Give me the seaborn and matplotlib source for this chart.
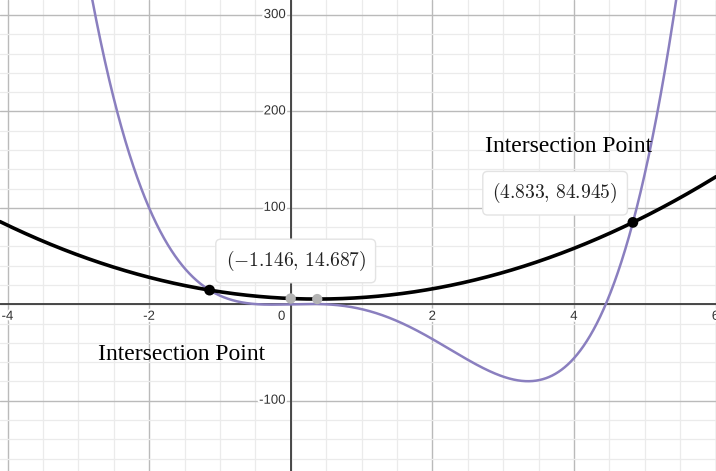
import numpy as np
import matplotlib
matplotlib.use("Agg")
import matplotlib.pyplot as plt
import matplotlib.patheffects as pe
from matplotlib.ticker import MultipleLocator
import seaborn as sns

# Curves shown on the graph (polynomial coefficients, highest power first)
black_coef = [4, -3, 6]            # y = 4x^2 - 3x + 6
purple_coef = [2, -9, 0, 2, 0]     # y = 2x^4 - 9x^3 + 2x

# Marked points
inter_x = [-1.146, 4.833]
inter_y = [14.687, 84.945]
gray_x = [0.0, 0.375]
gray_y = [6.0, 5.4375]

# Axis tick labels
xtick_vals = [-4, -2, 0, 2, 4, 6]
xtick_labels = ["-4", "-2", "0", "2", "4", "6"]
ytick_vals = [-100, 100, 200, 300]
ytick_labels = ["-100", "100", "200", "300"]

sns.set_style("white")
plt.rcParams["mathtext.fontset"] = "cm"

fig = plt.figure(figsize=(7.16, 4.71), dpi=100)
ax = fig.add_axes([0, 0, 1, 1])
xmin, xmax = -4.106, 6.007
ymin, ymax = -172.9, 315.6

xs = np.linspace(xmin, xmax, 3000)
df_purple = {"x": xs, "y": np.polyval(purple_coef, xs)}
df_black = {"x": xs, "y": np.polyval(black_coef, xs)}

# grid
ax.xaxis.set_major_locator(MultipleLocator(2))
ax.xaxis.set_minor_locator(MultipleLocator(0.5))
ax.yaxis.set_major_locator(MultipleLocator(100))
ax.yaxis.set_minor_locator(MultipleLocator(20))
ax.grid(which="minor", color="#ebebeb", lw=0.9, zorder=0)
ax.grid(which="major", color="#bababa", lw=1.0, zorder=0)
ax.tick_params(which="both", length=0, labelbottom=False, labelleft=False)
for s in ax.spines.values():
    s.set_visible(False)
ax.axhline(0, color="#3c3c3c", lw=1.3, zorder=1)
ax.axvline(0, color="#3c3c3c", lw=1.3, zorder=1)

# tick labels with white halo, Desmos style
halo = [pe.withStroke(linewidth=3, foreground="white")]
for v, lab in zip(xtick_vals, xtick_labels):
    dx = -6.5 if v == 0 else 0
    ax.annotate(lab, xy=(v, 0), xytext=(dx, -9), textcoords="offset points",
                ha="center", va="center", fontsize=9.5, color="#333333",
                family="Liberation Sans", path_effects=halo, zorder=2)
for v, lab in zip(ytick_vals, ytick_labels):
    ax.annotate(lab, xy=(0, v), xytext=(-3.5, 0), textcoords="offset points",
                ha="right", va="center", fontsize=9.5, color="#333333",
                family="Liberation Sans", path_effects=halo, zorder=2)

# curves
sns.lineplot(data=df_purple, x="x", y="y", ax=ax, color="#8a7fbf", lw=1.8,
             zorder=3, sort=False)
sns.lineplot(data=df_black, x="x", y="y", ax=ax, color="black", lw=2.6,
             zorder=4, sort=False)

# points
sns.scatterplot(x=gray_x, y=gray_y, ax=ax, color="#b3b3b3", s=55,
                edgecolor="none", zorder=5)
sns.scatterplot(x=inter_x, y=inter_y, ax=ax, color="black", s=60,
                edgecolor="none", zorder=6)

# coordinate labels and titles
label_offsets = [(62, 21), (-56, 21)]
title_offsets = [(-20, -46), (-46, 55)]
for px, py, off, toff in zip(inter_x, inter_y, label_offsets, title_offsets):
    txt = r"$(%s,\,%s)$" % (f"{px:.3f}", f"{py:.3f}")
    ax.annotate(txt, xy=(px, py), xytext=off, textcoords="offset points",
                ha="center", va="center", fontsize=14, color="#222222",
                bbox=dict(boxstyle="round,pad=0.5,rounding_size=0.25",
                          fc="white", ec="#e3e3e3", lw=1.0), zorder=7)
    ax.annotate("Intersection Point", xy=(px, py), xytext=toff,
                textcoords="offset points", ha="center", va="center",
                fontsize=17, color="black", family="Liberation Serif", zorder=7)

ax.set_xlim(xmin, xmax)
ax.set_ylim(ymin, ymax)
ax.set_xlabel("")
ax.set_ylabel("")
if ax.get_legend() is not None:
    ax.get_legend().remove()

fig.savefig("out.png", dpi=100)
